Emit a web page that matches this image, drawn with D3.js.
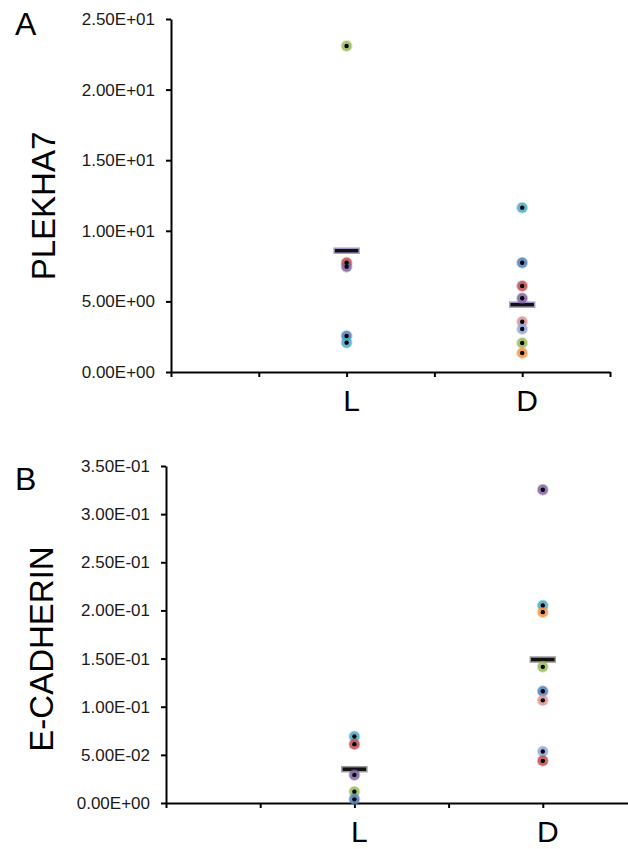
<!DOCTYPE html>
<meta charset="utf-8">
<script src="https://d3js.org/d3.v7.min.js"></script>
<style>
  body { margin: 0; background: #fff; }
  text { font-family: "Liberation Sans", Arial, sans-serif; }
</style>
<div id="chart"></div>
<script>
// categories on the x axis (sit at x = 2 and x = 4 of a 0..5 axis)
var categories = ["L", "D"];
var xTicks = [0, 1, 2, 3, 4, 5];

// panel A : PLEKHA7
var plekhaTicks = [0, 5, 10, 15, 20, 25];
var plekhaL = [23.09, 7.74, 7.46, 2.55, 2.08];
var plekhaLColors = ["#9bbb59", "#c0504d", "#8064a2", "#4f81bd", "#4bacc6"];
var plekhaD = [11.64, 7.74, 6.09, 5.22, 3.56, 3.05, 2.05, 1.35];
var plekhaDColors = ["#4bacc6", "#4f81bd", "#c0504d", "#8064a2", "#d99694", "#8ea9db", "#9bbb59", "#f79646"];
var plekhaMeans = [8.59, 4.77];

// panel B : E-CADHERIN
var ecadTicks = [0, 0.05, 0.10, 0.15, 0.20, 0.25, 0.30, 0.35];
var ecadL = [0.0691, 0.0611, 0.0292, 0.0118, 0.0038];
var ecadLColors = ["#4bacc6", "#c0504d", "#8064a2", "#9bbb59", "#4f81bd"];
var ecadD = [0.3253, 0.2052, 0.1982, 0.1414, 0.1160, 0.1066, 0.0535, 0.0438];
var ecadDColors = ["#8064a2", "#4bacc6", "#f79646", "#9bbb59", "#4f81bd", "#d99694", "#8ea9db", "#c0504d"];
var ecadMeans = [0.0351, 0.149];

var W = 628, H = 849;

var svg = d3.select("#chart").append("svg")
    .attr("width", W)
    .attr("height", H);

// Excel style scientific labels, e.g. 2.50E+01
function fmtE(v) {
  var parts = v.toExponential(2).split("e");
  var n = +parts[1];
  return parts[0] + "E" + (n < 0 ? "-" : "+") + String(Math.abs(n)).padStart(2, "0");
}

var panels = [
  { letter: "A", label: "PLEKHA7", letterY: 35, labelX: 55, labelY: 206, yTicks: plekhaTicks,
    x0: 171, x1: 610, y0: 372, y1: 19,
    groups: [plekhaL, plekhaD], colors: [plekhaLColors, plekhaDColors], means: plekhaMeans,
    barEdge: "#a99bd0" },
  { letter: "B", label: "E-CADHERIN", letterY: 490, labelX: 53, labelY: 649, yTicks: ecadTicks,
    x0: 166, x1: 637, y0: 803, y1: 466,
    groups: [ecadL, ecadD], colors: [ecadLColors, ecadDColors], means: ecadMeans,
    barEdge: "#9a9a9a" }
];

panels.forEach(function(p) {
  var x = d3.scaleLinear().domain([0, 5]).range([p.x0, p.x1]);
  var y = d3.scaleLinear().domain([0, d3.max(p.yTicks)]).range([p.y0, p.y1]);
  var catX = function(i) { return x((i + 1) * 2); };

  // y axis
  var ya = svg.append("g")
      .attr("transform", "translate(" + p.x0 + ",0)")
      .call(d3.axisLeft(y).tickValues(p.yTicks).tickFormat(fmtE)
        .tickSize(5).tickSizeOuter(0).tickPadding(11));
  ya.selectAll("path, line").attr("stroke", "#000").attr("stroke-width", 2);
  ya.selectAll("text").style("font-size", "17px").attr("fill", "#1a1a1a");

  // x axis
  var xa = svg.append("g")
      .attr("transform", "translate(0," + p.y0 + ")")
      .call(d3.axisBottom(x).tickValues(xTicks).tickFormat("")
        .tickSize(5).tickSizeOuter(0));
  xa.selectAll("path, line").attr("stroke", "#000").attr("stroke-width", 2);

  // category labels
  svg.append("g").selectAll("text")
    .data(categories)
    .enter().append("text")
      .attr("x", function(d, i) { return catX(i) + 5; })
      .attr("y", p.y0 + 39)
      .attr("text-anchor", "middle")
      .style("font-size", "30px")
      .attr("fill", "#000")
      .text(function(d) { return d; });

  // panel letter
  svg.append("text")
    .attr("x", 15)
    .attr("y", p.letterY)
    .style("font-size", "32px")
    .attr("fill", "#000")
    .text(p.letter);

  // y axis title
  svg.append("text")
    .attr("transform", "translate(" + p.labelX + "," + p.labelY + ") rotate(-90)")
    .attr("text-anchor", "middle")
    .style("font-size", "33px")
    .attr("fill", "#000")
    .text(p.label);

  // mean bars
  svg.append("g").selectAll("rect")
    .data(p.means)
    .enter().append("rect")
      .attr("x", function(d, i) { return catX(i) - 12.5; })
      .attr("y", function(d) { return y(d) - 2.5; })
      .attr("width", 25)
      .attr("height", 5)
      .attr("fill", "#111")
      .attr("stroke", p.barEdge)
      .attr("stroke-width", 1.5);

  // points
  p.groups.forEach(function(vals, gi) {
    var g = svg.append("g");
    g.selectAll("circle.halo")
      .data(vals)
      .enter().append("circle")
        .attr("class", "halo")
        .attr("cx", catX(gi))
        .attr("cy", function(d) { return y(d); })
        .attr("r", 5)
        .attr("fill", function(d, i) { return p.colors[gi][i]; })
        .attr("fill-opacity", 0.85)
        .attr("stroke", function(d, i) { return p.colors[gi][i]; })
        .attr("stroke-opacity", 0.35)
        .attr("stroke-width", 2);
    g.selectAll("circle.dot")
      .data(vals)
      .enter().append("circle")
        .attr("class", "dot")
        .attr("cx", catX(gi))
        .attr("cy", function(d) { return y(d); })
        .attr("r", 2.2)
        .attr("fill", "#000");
  });
});
</script>
